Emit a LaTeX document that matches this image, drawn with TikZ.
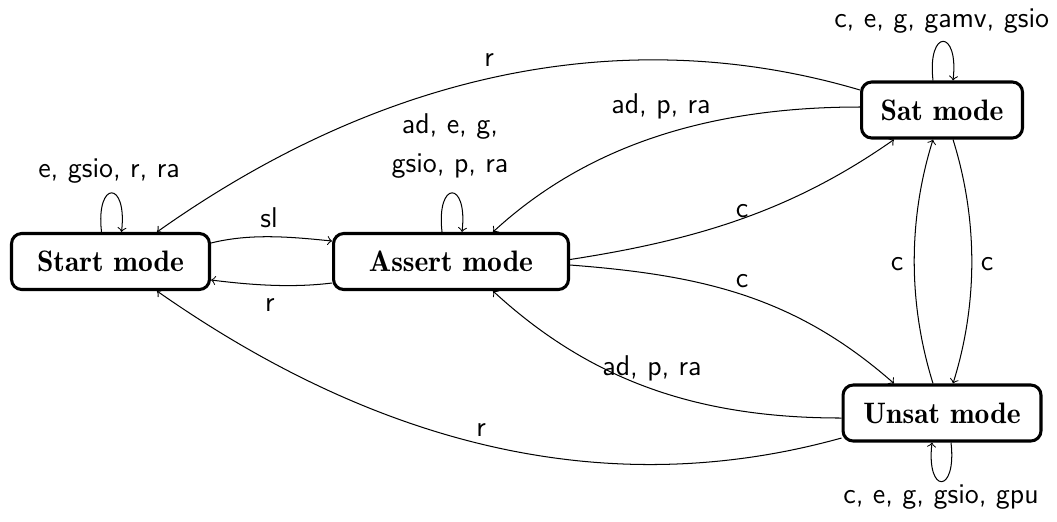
\documentclass[tikz,border=0pt]{standalone}
\usetikzlibrary{calc}
\begin{document}
\begin{tikzpicture}[x=0.392pt,y=-0.392pt,
  mode/.style={draw,line width=1.2pt,rounded corners=4pt,minimum height=21.95pt,inner sep=0pt,font=\fontsize{11.6}{14}\selectfont\fontseries{b}\selectfont},
  lbl/.style={font=\fontsize{11.2}{13.5}\selectfont\sffamily,inner sep=0pt,anchor=base},
  edge/.style={->,line width=0.4pt}]
\useasboundingbox (0,0) rectangle (1057,521);
\node[mode,minimum width=77.6pt] (start) at (110.5,261.5) {Start mode};
\node[mode,minimum width=92.1pt] (assert) at (451,261.5) {Assert mode};
\node[mode,minimum width=63.1pt] (sat) at (942,110) {Sat mode};
\node[mode,minimum width=77.6pt] (unsat) at (942,413) {Unsat mode};
% loops
\draw[edge] ($(start.north)+(-9,0)$) .. controls +(-6,-52) and +(6,-52) .. ($(start.north)+(11,0)$);
\draw[edge] ($(assert.north)+(-9,0)$) .. controls +(-6,-52) and +(6,-52) .. ($(assert.north)+(11,0)$);
\draw[edge] ($(sat.north)+(-9,0)$) .. controls +(-6,-52) and +(6,-52) .. ($(sat.north)+(11,0)$);
\draw[edge] ($(unsat.south)+(9,0)$) .. controls +(6,52) and +(-6,52) .. ($(unsat.south)+(-10,0)$);
% start <-> assert
\draw[edge] ($(start.east)+(0,-18.5)$) .. controls +(40,-10) and +(-40,-4) .. ($(assert.west)+(0,-20.5)$);
\draw[edge] ($(assert.west)+(0,21.5)$) .. controls +(-40,5) and +(40,5) .. ($(start.east)+(0,18.5)$);
% sat -> start, sat -> assert
\draw[edge] ($(sat.west)+(0,-20)$) .. controls +(-220,-65) and +(240,-170) .. ($(start.north)+(46.5,0)$);
\draw[edge] ($(sat.west)+(0,-3)$) .. controls +(-140,0) and +(100,-92) .. ($(assert.north)+(42,0)$);
% assert -> sat, assert -> unsat
\draw[edge] ($(assert.east)+(0,-2)$) .. controls +(130,-20) and +(-100,70) .. ($(sat.south)+(-48,0)$);
\draw[edge] ($(assert.east)+(0,3.5)$) .. controls +(130,10) and +(-100,-88) .. ($(unsat.north)+(-48,0)$);
% unsat -> assert, unsat -> start
\draw[edge] ($(unsat.west)+(0,5)$) .. controls +(-140,0) and +(100,92) .. ($(assert.south)+(42,0)$);
\draw[edge] ($(unsat.west)+(0,25)$) .. controls +(-216,60) and +(240,168) .. ($(start.south)+(46.5,0)$);
% sat <-> unsat
\draw[edge] ($(unsat.north)+(-9,0)$) .. controls +(-25,-80) and +(-25,80) .. ($(sat.south)+(-9,0)$);
\draw[edge] ($(sat.south)+(11,0)$) .. controls +(25,80) and +(25,-80) .. ($(unsat.north)+(11,0)$);
% labels
\node[lbl] (l1) at (109,177) {e, gsio, r, ra};
\node[lbl,anchor=south,align=center,font=\fontsize{11.2}{15.3}\selectfont\sffamily] (l2) at (450,178.7) {ad, e, g,\\gsio, p, ra};
\node[lbl] (l3) at (661,113) {ad, p, ra};
\node[lbl] (l4) at (489,66) {r};
\node[lbl] (l5) at (269,227) {sl};
\node[lbl] (l6) at (270,311.7) {r};
\node[lbl] (l7) at (742,217) {c};
\node[lbl] (l8) at (742,287) {c};
\node[lbl] (l9) at (652,375) {ad, p, ra};
\node[lbl] (l10) at (481,436.7) {r};
\node[lbl] (l11) at (897,270) {c};
\node[lbl] (l12) at (987,270) {c};
\node[lbl] (l13) at (941.7,27) {c, e, g, gamv, gsio};
\node[lbl] (l14) at (941,503) {c, e, g, gsio, gpu};
\end{tikzpicture}
\end{document}
